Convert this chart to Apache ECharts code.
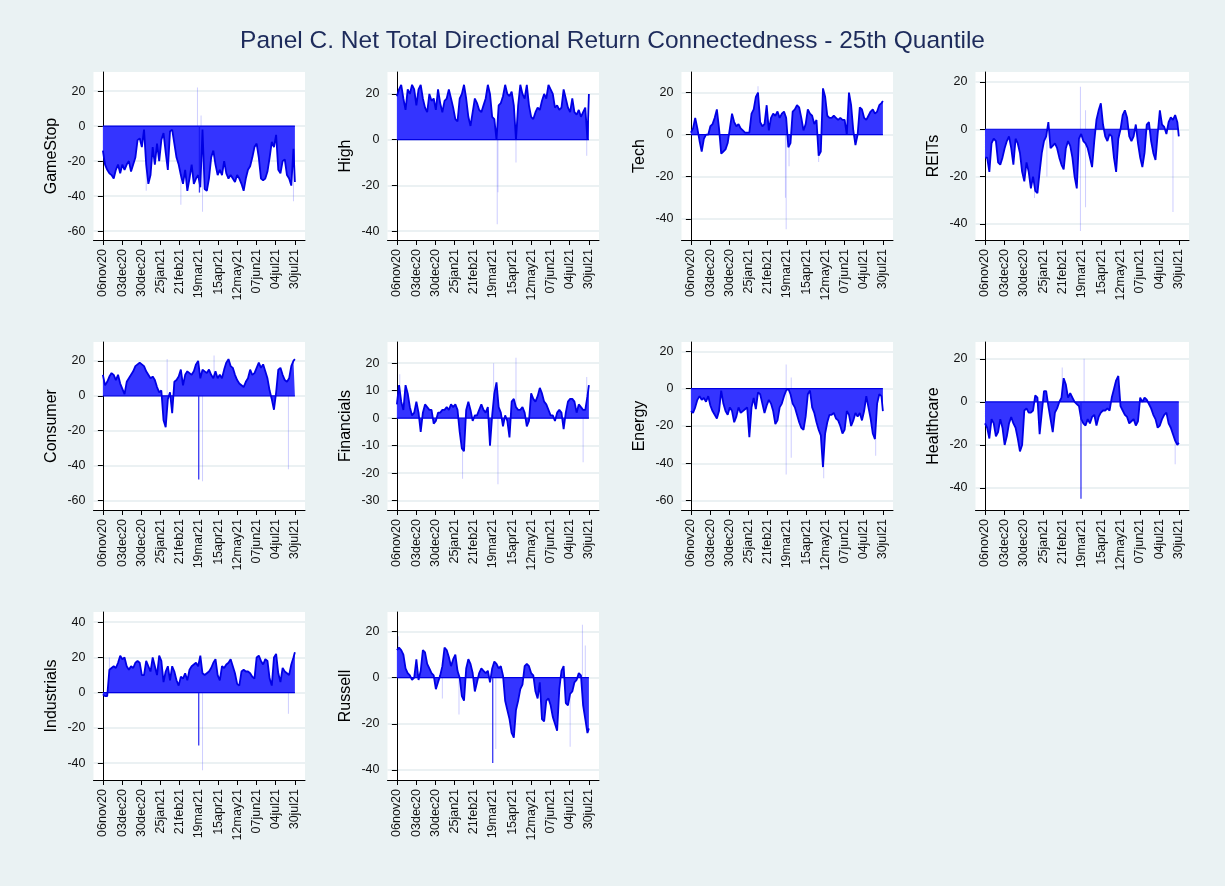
<!DOCTYPE html>
<html><head><meta charset="utf-8">
<script src="https://cdn.jsdelivr.net/npm/echarts@6/dist/echarts.min.js"></script>
<style>html,body{margin:0;padding:0;background:#eaf2f3}#c{width:1225px;height:886px}</style>
</head><body><div id="c"></div>
<script>
// ---- axis data ----
const tickDays = [0, 26.6, 53.2, 79.8, 106.4, 133, 159.6, 186.2, 212.8, 239.4, 266];
const tickLabels = ['06nov20','03dec20','30dec20','25jan21','21feb21','19mar21','15apr21','12may21','07jun21','04jul21','30jul21'];
// day offsets from 06nov2020
const days = [0,3,6,9,12,15,18,21,24,27,
  30,33,36,39,42,45,48,51,54,57,
  60,63,66,69,72,75,78,81,84,87,
  90,93,96,99,102,105,108,111,114,117,
  120,123,126,129,132,135,138,141,144,147,
  150,153,156,159,162,165,168,171,174,177,
  180,183,186,189,192,195,198,201,204,207,
  210,213,216,219,222,225,228,231,234,237,
  240,243,246,249,252,255,258,261,264,266];

// ---- series values ----
const gamestop = [-14,-22,-25,-27,-28,-30,-25,-22,-27,-22,
  -25,-22,-20,-26,-22,-18,-8,-7,-12,-2,
  -22,-33,-28,-12,-22,-10,-20,-8,-4,-15,
  -25,-3,-2,-10,-18,-22,-28,-33,-25,-37,
  -30,-22,-33,-30,-28,-35,-2,-36,-37,-30,
  -18,-14,-22,-28,-25,-28,-20,-27,-30,-28,
  -30,-32,-28,-30,-33,-37,-30,-25,-23,-18,
  -12,-10,-18,-30,-31,-30,-26,-18,-9,-12,
  -5,-25,-27,-20,-19,-28,-30,-34,-13,-32];
const high = [19,22,24,18,13,22,20,24,22,15,
  22,24,18,14,12,20,17,18,13,22,
  16,12,17,18,22,18,14,9,8,18,
  20,24,18,10,6,12,18,16,13,12,
  15,18,24,20,10,9,0,15,16,19,
  24,20,19,21,15,0,15,24,20,18,
  24,15,10,9,12,14,13,17,20,18,
  24,22,20,14,15,13,14,22,18,14,
  12,18,12,11,13,10,12,14,0,20];
const tech = [1,3,8,3,-3,-8,-2,0,0,4,
  5,8,12,3,-9,-8,-7,-4,3,10,
  6,4,5,3,2,1,1,1,10,12,
  18,20,6,4,5,14,2,8,10,9,
  11,8,10,11,8,-6,-4,11,12,14,
  13,8,2,5,12,10,9,5,7,-10,
  -8,22,18,9,8,8,9,8,7,8,
  7,7,0,20,14,2,-5,0,13,12,
  8,7,9,11,12,10,11,14,15,16];
const reits = [-12,-12,-18,-6,-4,-5,-14,-15,-12,-8,
  -5,-3,-8,-15,-4,-6,-10,-18,-22,-14,
  -18,-25,-20,-26,-27,-18,-10,-5,-3,3,
  -8,-7,-6,-8,-12,-15,-17,-8,-5,-7,
  -12,-20,-25,-4,-2,-5,-6,-8,-12,-16,
  -5,4,8,11,2,-3,-5,-2,-3,-12,
  -18,-4,0,6,8,5,-3,-5,-3,2,
  -6,-12,-16,-10,2,3,-5,-10,-13,-2,
  8,2,1,-2,3,5,4,6,3,-3];
const consumer = [12,6,8,11,13,12,9,12,7,4,
  1,8,10,12,14,17,18,19,18,17,
  14,12,10,11,9,5,2,3,-14,-18,
  -2,2,-10,8,9,11,15,6,12,14,
  13,12,14,18,20,10,15,14,13,15,
  12,10,14,10,12,10,15,19,21,17,
  16,12,9,7,6,5,8,10,15,12,
  13,16,19,16,18,14,10,3,-2,-8,
  2,15,16,12,9,8,10,17,20,21];
const financials = [5,12,6,3,12,9,4,1,2,6,
  2,-5,2,5,4,3,3,-2,-1,2,
  2,3,3,4,3,5,4,5,3,-5,
  -11,-12,3,6,3,-1,1,1,3,5,
  3,2,4,-10,1,9,13,4,2,-3,
  1,-1,-7,6,7,4,3,3,4,2,
  -3,-1,9,7,6,8,11,9,6,5,
  3,1,1,-1,2,3,2,-4,2,6,
  7,7,6,2,5,4,3,3,8,12];
const energy = [-12,-13,-10,-6,-4,-6,-5,-7,-4,-9,
  -12,-14,-16,-12,-1,-8,-12,-14,-10,-12,
  -18,-15,-10,-13,-12,-11,-10,-26,-10,-5,
  -11,-2,-3,-8,-13,-9,-6,-8,-12,-19,
  -17,-10,-8,-4,-1,0,-3,-8,-10,-14,
  -18,-21,-22,-15,-3,-1,-10,-13,-18,-22,
  -25,-42,-24,-18,-14,-14,-13,-16,-17,-20,
  -24,-22,-12,-14,-20,-17,-13,-15,-13,-17,
  -12,-4,-10,-16,-24,-27,-8,-3,-4,-12];
const healthcare = [-10,-12,-17,-8,-10,-16,-14,-8,-12,-20,
  -16,-10,-7,-10,-12,-17,-23,-20,-4,-3,
  -5,-5,-4,3,2,-15,-5,5,5,-2,
  -8,-14,-5,-3,0,2,11,8,2,4,
  2,0,-1,-2,-8,-10,-11,-8,-10,-7,
  -6,-11,-7,-5,-4,-4,-3,-4,2,6,
  10,12,-2,-4,-6,-7,-10,-9,-8,-11,
  -9,2,0,2,1,-1,-3,-6,-8,-12,
  -11,-8,-6,-5,-10,-12,-15,-18,-20,-19];
const industrials = [-1,-2,-2,13,14,15,14,17,21,19,
  20,15,13,15,14,17,18,17,10,10,
  18,15,12,20,15,10,21,18,6,12,
  15,7,15,12,7,4,9,8,11,7,
  13,15,16,17,15,21,11,10,11,12,
  14,17,19,10,7,15,14,16,17,19,
  15,11,5,4,12,13,12,12,11,9,
  8,20,21,18,16,19,18,8,4,20,
  22,11,6,14,12,11,10,16,20,23];
const russell = [12,13,12,10,4,2,1,-1,0,8,
  -1,3,12,11,6,4,2,1,-5,-2,
  1,5,13,12,9,5,8,10,3,0,
  -8,-10,4,8,6,2,-6,-2,2,4,
  3,2,3,-2,4,7,6,4,5,1,
  -10,-14,-18,-24,-26,-14,-10,-5,-3,5,
  6,5,2,1,-6,-9,-2,-18,-19,-10,
  -9,-12,-17,-20,-23,-5,3,5,-11,-12,
  -7,-6,-2,-1,2,1,-12,-18,-24,-22];

// thin one-observation spikes [day, value]
const gamestopFaint = [[132,22],[137,6],[139,-49],[109,-45],[265,-43],[61,-37]];
const gamestopSolid = [[133,-38]];
const highFaint = [[139,-37],[140,-23],[165,-10],[263,-7]];
const techFaint = [[132,-45],[131,-30],[136,-15],[177,-13],[93,23]];
const reitsFaint = [[131,18],[131,-43],[138,8],[138,-33],[258,-35],[68,-29],[85,-20]];
const consumerFaint = [[139,-49],[258,-42],[90,21],[155,23]];
const consumerSolid = [[132,-48]];
const financialsFaint = [[91,-22],[134,20],[140,-24],[165,22],[258,-16],[263,15],[4,16]];
const energyFaint = [[132,-46],[132,13],[139,-37],[139,6],[184,-48],[256,-36]];
const healthcareFaint = [[137,20],[262,-29],[107,16]];
const healthcareSolid = [[131,-45]];
const industrialsFaint = [[139,-44],[258,-12],[10,20]];
const industrialsSolid = [[132,-30]];
const russellFaint = [[138,-31],[3,18],[64,-9],[241,-30],[258,23],[262,14],[87,-16]];
const russellSolid = [[132,-37]];

const panels = [
  {name:'GameStop', v:gamestop, faint:gamestopFaint, solid:gamestopSolid, range:[-65.1,30.9], ticks:[-60,-40,-20,0,20]},
  {name:'High', v:high, faint:highFaint, solid:[], range:[-43.9,29.6], ticks:[-40,-20,0,20]},
  {name:'Tech', v:tech, faint:techFaint, solid:[], range:[-50.1,29.8], ticks:[-40,-20,0,20]},
  {name:'REITs', v:reits, faint:reitsFaint, solid:[], range:[-46.8,24.2], ticks:[-40,-20,0,20]},
  {name:'Consumer', v:consumer, faint:consumerFaint, solid:consumerSolid, range:[-65.4,30.8], ticks:[-60,-40,-20,0,20]},
  {name:'Financials', v:financials, faint:financialsFaint, solid:[], range:[-33.4,27.7], ticks:[-30,-20,-10,0,10,20]},
  {name:'Energy', v:energy, faint:energyFaint, solid:[], range:[-65,25], ticks:[-60,-40,-20,0,20]},
  {name:'Healthcare', v:healthcare, faint:healthcareFaint, solid:healthcareSolid, range:[-50.2,27.8], ticks:[-40,-20,0,20]},
  {name:'Industrials', v:industrials, faint:industrialsFaint, solid:industrialsSolid, range:[-49.6,45.8], ticks:[-40,-20,0,20,40]},
  {name:'Russell', v:russell, faint:russellFaint, solid:russellSolid, range:[-44.4,28.5], ticks:[-40,-20,0,20]}
];

// ---- layout ----
const colLeft = [93.5, 387.5, 681.5, 975.5];
const colWidth = [211.5, 211.5, 211.5, 213.5];
const rowTop = [72, 342, 612];
const plotH = 168;
const FONT = '"Liberation Sans", Arial, Helvetica, sans-serif';
const FILL = '#3434ff', LINE = '#0000e4';

const grid = [], xAxis = [], yAxis = [], series = [];
panels.forEach((p, i) => {
  const c = i % 4, r = Math.floor(i / 4);
  grid.push({left: colLeft[c], top: rowTop[r], width: colWidth[c], height: plotH,
    show: true, backgroundColor: '#ffffff', borderWidth: 0});
  xAxis.push({gridIndex: i, type: 'value', min: -13, max: 280,
    axisLine: {onZero: false, lineStyle: {color: '#000', width: 1}},
    axisTick: {length: 5, lineStyle: {color: '#000'}, customValues: tickDays},
    axisLabel: {customValues: tickDays, rotate: 90, margin: 9, fontSize: 12.5, color: '#111', fontFamily: FONT,
      formatter: v => { let k = 0, best = 1e9; tickDays.forEach((t, j) => { if (Math.abs(t - v) < best) { best = Math.abs(t - v); k = j; } }); return tickLabels[k]; }},
    splitLine: {show: false}});
  yAxis.push({gridIndex: i, type: 'value', min: p.range[0], max: p.range[1],
    name: p.name, nameLocation: 'middle', nameGap: 34, nameRotate: 90,
    nameTextStyle: {fontSize: 16, color: '#000', fontFamily: FONT},
    axisLine: {show: true, lineStyle: {color: '#000', width: 1}},
    axisTick: {show: true, length: 5, lineStyle: {color: '#000'}, customValues: p.ticks},
    axisLabel: {customValues: p.ticks, margin: 8, fontSize: 12.5, color: '#111', fontFamily: FONT},
    splitLine: {show: true, lineStyle: {color: '#e4edef', width: 1.5}}});
  series.push({type: 'line', xAxisIndex: i, yAxisIndex: i, showSymbol: false, symbol: 'none',
    data: days.map((d, k) => [d, p.v[k]]),
    lineStyle: {color: LINE, width: 1.8}, areaStyle: {color: FILL, opacity: 1, origin: 0},
    animation: false, z: 3});
  series.push({type: 'line', xAxisIndex: i, yAxisIndex: i, showSymbol: false, symbol: 'none',
    data: [[days[0], 0], [days[days.length - 1], 0]],
    lineStyle: {color: LINE, width: 1.2}, animation: false, z: 4});
  series.push({type: 'bar', xAxisIndex: i, yAxisIndex: i, barWidth: 1, data: p.faint,
    itemStyle: {color: 'rgba(60,60,255,0.25)'}, animation: false, z: 2});
  if (p.solid.length) series.push({type: 'bar', xAxisIndex: i, yAxisIndex: i, barWidth: 1.3, data: p.solid,
    itemStyle: {color: 'rgba(20,20,240,0.85)'}, animation: false, z: 5});
});

const chart = echarts.init(document.getElementById('c'), null, {renderer: 'canvas'});
chart.setOption({
  backgroundColor: '#eaf2f3',
  animation: false,
  title: {text: 'Panel C. Net Total Directional Return Connectedness - 25th Quantile', left: 'center', top: 24,
    textStyle: {fontSize: 24.5, fontWeight: 'normal', color: '#1d2b5b', fontFamily: FONT}},
  grid, xAxis, yAxis, series
});
</script></body></html>
